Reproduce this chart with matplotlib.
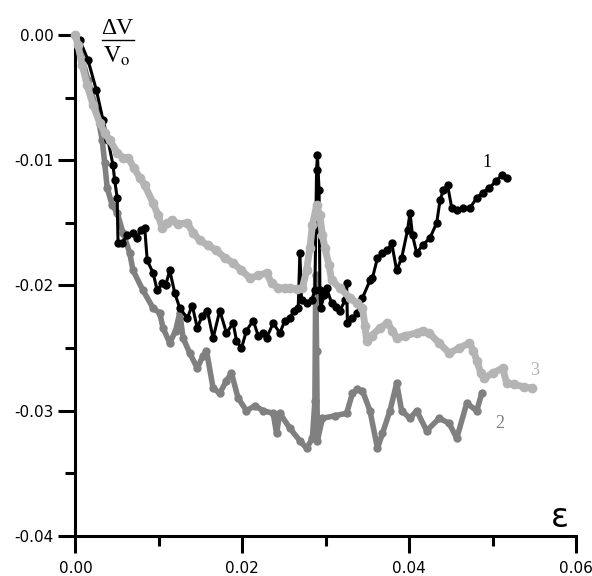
import matplotlib
matplotlib.use('Agg')
import matplotlib.pyplot as plt
from matplotlib.lines import Line2D
from matplotlib.ticker import MultipleLocator

plt.rcParams['mathtext.fontset'] = 'stix'

# curve 1 (black): (strain, dV/Vo)
curve1 = [(0.0, 0.0), (0.0005, -0.0004), (0.0015, -0.0020), (0.0025, -0.0044), (0.0033, -0.0068),
          (0.0039, -0.0084), (0.0045, -0.0104), (0.0047, -0.0116), (0.0050, -0.0130), (0.0051, -0.0166),
          (0.0056, -0.0166), (0.0062, -0.0160), (0.0069, -0.0158), (0.0074, -0.0162), (0.0078, -0.0156),
          (0.0083, -0.0154), (0.0086, -0.0180), (0.0093, -0.0190), (0.0098, -0.0204), (0.0104, -0.0198),
          (0.0108, -0.0200), (0.0113, -0.0188), (0.0119, -0.0206), (0.0125, -0.0218), (0.0134, -0.0226),
          (0.0140, -0.0216), (0.0146, -0.0234), (0.0152, -0.0224), (0.0158, -0.0220), (0.0165, -0.0242),
          (0.0173, -0.0220), (0.0181, -0.0238), (0.0189, -0.0230), (0.0193, -0.0244), (0.0199, -0.0250),
          (0.0205, -0.0236), (0.0213, -0.0228), (0.0219, -0.0240), (0.0225, -0.0238), (0.0229, -0.0242),
          (0.0237, -0.0230), (0.0245, -0.0238), (0.0251, -0.0228), (0.0257, -0.0226), (0.0262, -0.0220),
          (0.0267, -0.0218), (0.0269, -0.0174), (0.0271, -0.0212), (0.0277, -0.0214), (0.0283, -0.0212),
          (0.0287, -0.0204), (0.0288, -0.0156), (0.0289, -0.0108), (0.0290, -0.0096), (0.0292, -0.0124),
          (0.0293, -0.0204), (0.0294, -0.0218), (0.0298, -0.0208), (0.0301, -0.0202), (0.0307, -0.0214),
          (0.0312, -0.0217), (0.0317, -0.0220), (0.0323, -0.0212), (0.0325, -0.0198), (0.0326, -0.0230),
          (0.0332, -0.0226), (0.0338, -0.0222), (0.0344, -0.0210), (0.0353, -0.0196), (0.0356, -0.0194),
          (0.0362, -0.0178), (0.0368, -0.0174), (0.0374, -0.0172), (0.0379, -0.0166), (0.0385, -0.0188),
          (0.0391, -0.0178), (0.0398, -0.0156), (0.0401, -0.0142), (0.0404, -0.0160), (0.0409, -0.0174),
          (0.0416, -0.0168), (0.0425, -0.0162), (0.0433, -0.0150), (0.0437, -0.0132), (0.0441, -0.0124),
          (0.0446, -0.0120), (0.0451, -0.0138), (0.0457, -0.0140), (0.0464, -0.0138), (0.0473, -0.0138),
          (0.0481, -0.0130), (0.0488, -0.0126), (0.0496, -0.0122), (0.0504, -0.0117), (0.0511, -0.0112),
          (0.0517, -0.0114)]

# curve 2 (dark grey)
curve2 = [(0.0, 0.0), (0.0005, -0.0012), (0.0015, -0.0036), (0.0026, -0.0062), (0.0032, -0.0084),
          (0.0035, -0.0102), (0.0038, -0.0122), (0.0044, -0.0136), (0.0050, -0.0142), (0.0057, -0.0158),
          (0.0065, -0.0174), (0.0069, -0.0188), (0.0081, -0.0204), (0.0093, -0.0218), (0.0101, -0.0222),
          (0.0105, -0.0234), (0.0113, -0.0246), (0.0120, -0.0236), (0.0125, -0.0222), (0.0129, -0.0242),
          (0.0137, -0.0254), (0.0146, -0.0266), (0.0153, -0.0256), (0.0157, -0.0252), (0.0165, -0.0282),
          (0.0173, -0.0286), (0.0181, -0.0276), (0.0187, -0.0270), (0.0195, -0.0290), (0.0205, -0.0300),
          (0.0215, -0.0296), (0.0225, -0.0300), (0.0237, -0.0302), (0.0241, -0.0318), (0.0245, -0.0302),
          (0.0257, -0.0314), (0.0269, -0.0324), (0.0277, -0.0330), (0.0284, -0.0322), (0.0287, -0.0292),
          (0.0288, -0.0192), (0.0289, -0.0252), (0.0290, -0.0324), (0.0296, -0.0306), (0.0311, -0.0304),
          (0.0325, -0.0302), (0.0332, -0.0286), (0.0338, -0.0283), (0.0344, -0.0284), (0.0353, -0.0300),
          (0.0362, -0.0330), (0.0368, -0.0318), (0.0377, -0.0300), (0.0385, -0.0278), (0.0391, -0.0300),
          (0.0401, -0.0306), (0.0409, -0.0300), (0.0421, -0.0316), (0.0436, -0.0306), (0.0448, -0.0310),
          (0.0457, -0.0322), (0.0469, -0.0294), (0.0481, -0.0300), (0.0487, -0.0286)]

# curve 3 (light grey)
curve3 = [(0.0, 0.0), (0.0003, -0.0008), (0.0008, -0.0024), (0.0014, -0.0040), (0.0021, -0.0056),
          (0.0029, -0.0070), (0.0035, -0.0078), (0.0041, -0.0084), (0.0050, -0.0094), (0.0057, -0.0098),
          (0.0063, -0.0098), (0.0070, -0.0106), (0.0077, -0.0114), (0.0083, -0.0120), (0.0093, -0.0134),
          (0.0099, -0.0144), (0.0104, -0.0154), (0.0110, -0.0150), (0.0116, -0.0148), (0.0123, -0.0151),
          (0.0134, -0.0150), (0.0141, -0.0158), (0.0149, -0.0164), (0.0159, -0.0168), (0.0169, -0.0172),
          (0.0179, -0.0178), (0.0189, -0.0182), (0.0199, -0.0188), (0.0209, -0.0194), (0.0219, -0.0192),
          (0.0229, -0.0190), (0.0235, -0.0198), (0.0243, -0.0202), (0.0251, -0.0202), (0.0257, -0.0202),
          (0.0266, -0.0203), (0.0272, -0.0202), (0.0277, -0.0188), (0.0281, -0.0170), (0.0284, -0.0152),
          (0.0289, -0.0136), (0.0293, -0.0144), (0.0296, -0.0160), (0.0299, -0.0170), (0.0304, -0.0184),
          (0.0307, -0.0196), (0.0317, -0.0202), (0.0329, -0.0210), (0.0337, -0.0214), (0.0344, -0.0218),
          (0.0347, -0.0232), (0.0349, -0.0244), (0.0355, -0.0240), (0.0365, -0.0234), (0.0374, -0.0230),
          (0.0380, -0.0236), (0.0385, -0.0242), (0.0395, -0.0240), (0.0409, -0.0238), (0.0416, -0.0236),
          (0.0424, -0.0238), (0.0436, -0.0246), (0.0448, -0.0254), (0.0460, -0.0250), (0.0472, -0.0246),
          (0.0477, -0.0252), (0.0481, -0.0260), (0.0486, -0.0270), (0.0490, -0.0274), (0.0500, -0.0270),
          (0.0512, -0.0266), (0.0517, -0.0278), (0.0526, -0.0279), (0.0538, -0.0281), (0.0547, -0.0282)]

labels = ['1', '2', '3']
colors = ['#000000', '#808080', '#b4b4b4']

fig = plt.figure(figsize=(5.92, 5.76), dpi=100)
ax = fig.add_axes([0.1275, 0.0694, 0.8455, 0.870])

# dark grey first, then black, light grey on top
order = [(curve2, colors[1], 4.0, 5.0, 2), (curve1, colors[0], 2.2, 5.0, 3), (curve3, colors[2], 5.0, 6.0, 4)]
for pts, col, lw, ms, z in order:
    xs = [p[0] for p in pts]
    ys = [p[1] for p in pts]
    ax.plot(xs, ys, color=col, lw=lw, marker='o', ms=ms, mec=col, mfc=col, zorder=z,
            clip_on=False, solid_joinstyle='round', solid_capstyle='round')

ax.set_xlim(0, 0.06)
ax.set_ylim(-0.04, 0.0)

for side in ['top', 'right']:
    ax.spines[side].set_visible(False)
for side in ['left', 'bottom']:
    ax.spines[side].set_linewidth(2.2)

ax.xaxis.set_major_locator(MultipleLocator(0.02))
ax.xaxis.set_minor_locator(MultipleLocator(0.01))
ax.yaxis.set_major_locator(MultipleLocator(0.01))
ax.yaxis.set_minor_locator(MultipleLocator(0.005))
ax.xaxis.set_major_formatter(plt.FormatStrFormatter('%.2f'))
ax.yaxis.set_major_formatter(plt.FormatStrFormatter('%.2f'))

ax.tick_params(which='major', direction='out', length=12, width=2.2, labelsize=11)
ax.tick_params(which='minor', direction='out', length=7, width=2.2)
ax.tick_params(axis='x', which='major', pad=6)
ax.tick_params(axis='y', which='major', pad=4)

# curve numbers
label_pos = [(0.0493, -0.0102), (0.0508, -0.0310), (0.0550, -0.0268)]
for lab, col, (lx, ly) in zip(labels, colors, label_pos):
    ax.text(lx, ly, lab, color=col, fontsize=13, family='Liberation Serif',
            ha='center', va='center')

# axis names
ax.text(0.0581, -0.0385, 'ε', fontsize=24, ha='center', va='center')
fig.text(117 / 592, 1 - 29 / 576, 'ΔV', fontsize=17, family='Liberation Serif',
         ha='center', va='center')
fig.lines.append(Line2D([102 / 592, 134 / 592], [1 - 40 / 576, 1 - 40 / 576],
                        color='black', lw=1.0, transform=fig.transFigure))
fig.text(117 / 592, 1 - 56 / 576, r'$\mathrm{V_o}$', fontsize=17,
         ha='center', va='center')

fig.savefig('out.png', dpi=100)
